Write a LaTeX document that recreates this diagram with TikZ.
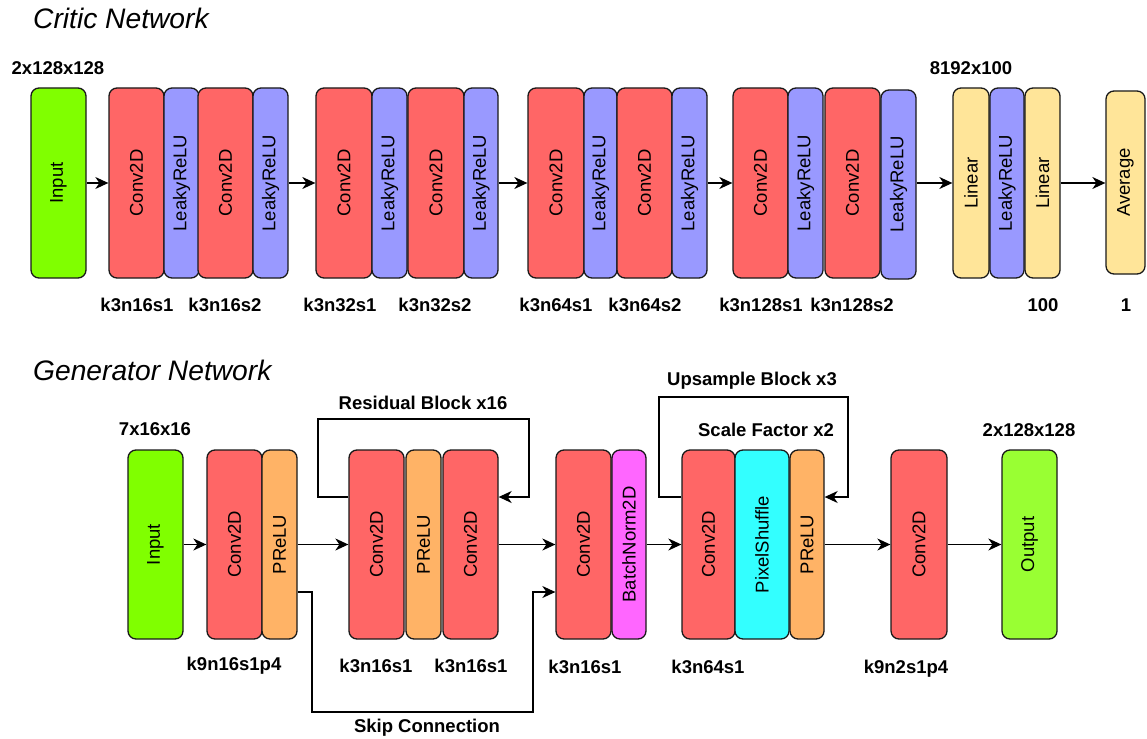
\documentclass[tikz,border=0pt]{standalone}
\usepackage{fontspec}
\setmainfont{Liberation Sans}
\usetikzlibrary{arrows.meta}
\definecolor{convred}{HTML}{FF6666}
\definecolor{leakyblue}{HTML}{9999FF}
\definecolor{inputgreen}{HTML}{80FF00}
\definecolor{outputgreen}{HTML}{99FF33}
\definecolor{linyellow}{HTML}{FFE599}
\definecolor{preluorange}{HTML}{FFB366}
\definecolor{bnpink}{HTML}{FF66FF}
\definecolor{pscyan}{HTML}{33FFFF}
\tikzset{
  blk/.style={draw=black!90, line width=1.3pt, rounded corners=8pt, inner sep=0pt,
    font=\fontsize{18.5}{20}\selectfont},
  conv/.style={blk, fill=convred},
  leaky/.style={blk, fill=leakyblue},
  inp/.style={blk, fill=inputgreen},
  outp/.style={blk, fill=outputgreen},
  lin/.style={blk, fill=linyellow},
  prelu/.style={blk, fill=preluorange},
  bnorm/.style={blk, fill=bnpink},
  pshuf/.style={blk, fill=pscyan},
  lab/.style={font=\bfseries\fontsize{18.5}{20}\selectfont, inner sep=0pt},
  ttl/.style={font=\itshape\fontsize{28.2}{30}\selectfont, inner sep=0pt, anchor=base west},
  arr/.style={line width=1.3pt, -{Stealth[length=13pt,width=12pt,inset=4pt]}},
  ln/.style={line width=1.3pt}
}
\newcommand\blk[7]{\node[#2, minimum width={#4-#3}, minimum height={#6-#5}] (#1) at ({(#3+#4)/2},{(#5+#6)/2}) {\rotatebox{90}{#7}};}
\begin{document}
\begin{tikzpicture}[x=1pt,y=-1pt]
\useasboundingbox (0,0) rectangle (1147,738);
% ---------- Critic ----------
\node[ttl] (tcrit) at (33,29) {Critic Network};
\node[lab] (cdim) at (58,68) {2x128x128};
\node[lab] (ldim) at (971,68) {8192x100};
\blk{cin}{inp}{31}{86}{88}{278}{Input}
\blk{c1}{conv}{109}{164}{88}{278}{Conv2D}
\blk{l1}{leaky}{164}{199}{88}{278}{LeakyReLU}
\blk{c2}{conv}{198}{253}{88}{278}{Conv2D}
\blk{l2}{leaky}{253}{288}{88}{278}{LeakyReLU}
\blk{c3}{conv}{316}{372}{88}{278}{Conv2D}
\blk{l3}{leaky}{372}{407}{88}{278}{LeakyReLU}
\blk{c4}{conv}{408}{464}{88}{278}{Conv2D}
\blk{l4}{leaky}{464}{498}{88}{278}{LeakyReLU}
\blk{c5}{conv}{528}{584}{88}{278}{Conv2D}
\blk{l5}{leaky}{584}{617}{88}{278}{LeakyReLU}
\blk{c6}{conv}{617}{672}{88}{278}{Conv2D}
\blk{l6}{leaky}{672}{707}{88}{278}{LeakyReLU}
\blk{c7}{conv}{733}{788}{88}{278}{Conv2D}
\blk{l7}{leaky}{788}{823}{88}{278}{LeakyReLU}
\blk{c8}{conv}{825}{880}{88}{278}{Conv2D}
\blk{l8}{leaky}{881}{916}{90}{279}{LeakyReLU}
\blk{ln1}{lin}{953}{989}{88}{278}{Linear}
\blk{l9}{leaky}{990}{1024}{88}{278}{LeakyReLU}
\blk{ln2}{lin}{1025}{1060}{88}{278}{Linear}
\blk{avg}{lin}{1106}{1145}{91}{274}{Average}
\draw[arr] (cin) -- (c1);
\draw[arr] (l2) -- (c3);
\draw[arr] (l4) -- (c5);
\draw[arr] (l6) -- (c7);
\draw[arr] (l8.east |- ln1.west) -- (ln1.west);
\draw[arr] (ln2.east) -- (ln2.east -| avg.west);
\node[lab] (k1) at (137,305) {k3n16s1};
\node[lab] (k2) at (225,305) {k3n16s2};
\node[lab] (k3) at (340,305) {k3n32s1};
\node[lab] (k4) at (435,305) {k3n32s2};
\node[lab] (k5) at (556,305) {k3n64s1};
\node[lab] (k6) at (645,305) {k3n64s2};
\node[lab] (k7) at (761,305) {k3n128s1};
\node[lab] (k8) at (852,305) {k3n128s2};
\node[lab] (k9) at (1043,305) {100};
\node[lab] (k10) at (1126,305) {1};
% ---------- Generator ----------
\node[ttl] (tgen) at (33,380) {Generator Network};
\node[lab] (gdim) at (155,429) {7x16x16};
\node[lab] (odim) at (1029,430) {2x128x128};
\node[lab] (tres) at (423,403) {Residual Block x16};
\node[lab] (tups) at (752,381) {Upsample Block x3};
\node[lab] (tsf) at (766,430) {Scale Factor x2};
\node[lab] (tskip) at (427,728) {Skip Connection};
\blk{gin}{inp}{128}{183}{450}{639}{Input}
\blk{g1}{conv}{207}{262}{450}{639}{Conv2D}
\blk{p1}{prelu}{262}{297}{450}{639}{PReLU}
\blk{r1}{conv}{349}{404}{450}{639}{Conv2D}
\blk{rp}{prelu}{406}{441}{450}{639}{PReLU}
\blk{r2}{conv}{443}{498}{450}{639}{Conv2D}
\blk{b1}{conv}{556}{611}{450}{639}{Conv2D}
\blk{bn}{bnorm}{612}{646}{450}{639}{BatchNorm2D}
\blk{u1}{conv}{682}{735}{450}{639}{Conv2D}
\blk{ps}{pshuf}{735}{789}{450}{639}{PixelShuffle}
\blk{up}{prelu}{790}{824}{450}{639}{PReLU}
\blk{f1}{conv}{891}{947}{450}{639}{Conv2D}
\blk{gout}{outp}{1002}{1057}{450}{639}{Output}
\draw[arr] (gin) -- (g1);
\draw[arr] (p1) -- (r1);
\draw[arr] (r2) -- (b1);
\draw[arr] (bn) -- (u1);
\draw[arr] (up) -- (f1);
\draw[arr] (f1) -- (gout);
% residual loop
\coordinate (ra) at (318,497);
\coordinate (rb) at (318,419);
\coordinate (rc) at (529,419);
\coordinate (rd) at (529,497);
\draw[arr] (r1.west |- ra) -- (ra) -- (rb) -- (rc) -- (rd) -- (r2.east |- rd);
% upsample loop
\coordinate (ua) at (659,497);
\coordinate (ub) at (659,397);
\coordinate (uc) at (848,397);
\coordinate (ud) at (848,497);
\draw[arr] (u1.west |- ua) -- (ua) -- (ub) -- (uc) -- (ud) -- (up.east |- ud);
% skip connection
\coordinate (sa) at (312,592);
\coordinate (sb) at (312,712);
\coordinate (sc) at (533,712);
\coordinate (sd) at (533,592);
\draw[arr] (p1.east |- sa) -- (sa) -- (sb) -- (sc) -- (sd) -- (b1.west |- sd);
\node[lab] (gk1) at (234,666) {k9n16s1p4};
\node[lab] (gk2) at (376,666) {k3n16s1};
\node[lab] (gk3) at (471,666) {k3n16s1};
\node[lab] (gk4) at (585,667) {k3n16s1};
\node[lab] (gk5) at (708,667) {k3n64s1};
\node[lab] (gk6) at (906,669) {k9n2s1p4};
\end{tikzpicture}
\end{document}
